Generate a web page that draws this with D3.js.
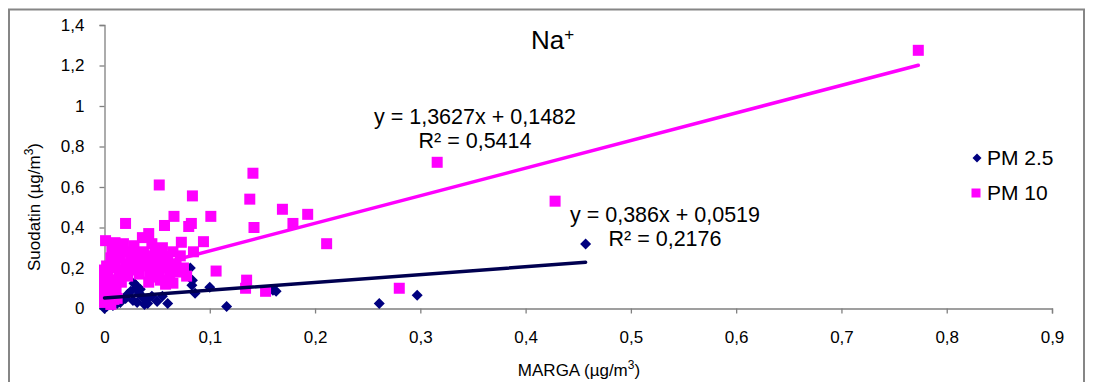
<!DOCTYPE html>
<html>
<head>
<meta charset="utf-8">
<script src="https://cdn.jsdelivr.net/npm/d3@7"></script>
<style>
  body { margin: 0; background: #fff; }
  text { font-family: "Liberation Sans", Arial, sans-serif; fill: #000; }
</style>
</head>
<body>
<script>
// PM 2.5 points [MARGA, Suodatin]
var pm25 = [
  [0.457, 0.318], [0.297, 0.065], [0.261, 0.025], [0.163, 0.085], [0.160, 0.09],
  [0.116, 0.01], [0.100, 0.105], [0.0815, 0.20], [0.0835, 0.14], [0.083, 0.115],
  [0.086, 0.075], [0.06, 0.025], [0.041, 0.025], [0.029, 0.12], [0.03, 0.10],
  [0.036, 0.055], [0.012, 0.025], [0, 0], [0.002, 0.01], [0.005, 0.04],
  [0.008, 0.015], [0.015, 0.03], [0.02, 0.05], [0.022, 0.07], [0.025, 0.085],
  [0.027, 0.04], [0.031, 0.03], [0.033, 0.075], [0.038, 0.02], [0.04, 0.045],
  [0.045, 0.06], [0.05, 0.035], [0.055, 0.06], [0.028, 0.125], [0.034, 0.095]
];

// PM 10 points [MARGA, Suodatin]
var pm10 = [
  [0.773, 1.275], [0.316, 0.722], [0.428, 0.53], [0.280, 0.10], [0.211, 0.32],
  [0.193, 0.465], [0.179, 0.42], [0.169, 0.49], [0.153, 0.085], [0.142, 0.40],
  [0.141, 0.668], [0.138, 0.54], [0.135, 0.14], [0.134, 0.10], [0.106, 0.185],
  [0.101, 0.455], [0.094, 0.33], [0.0835, 0.556], [0.0825, 0.42], [0.080, 0.405],
  [0.0845, 0.28], [0.066, 0.455], [0.057, 0.41], [0.052, 0.61], [0.057, 0.257],
  [0.048, 0.155], [0.065, 0.125], [0.042, 0.37], [0.036, 0.35], [0.073, 0.327],
  [0.020, 0.42], [0.018, 0.32], [0.010, 0.325], [0.001, 0.335], [0.032, 0.262],
  [0.006, 0.25],
  [0, 0.19], [0, 0.15], [0, 0.12], [0, 0.09], [0, 0.06], [0, 0.03],
  [0.002, 0.21], [0.003, 0.17], [0.004, 0.11], [0.005, 0.07], [0.006, 0.02],
  [0.008, 0.14], [0.009, 0.23], [0.011, 0.10], [0.012, 0.05], [0.014, 0.18],
  [0.015, 0.25], [0.016, 0.13], [0.02, 0.22], [0.022, 0.16],
  [0.025, 0.27], [0.027, 0.19], [0.03, 0.23],
  [0.033, 0.17], [0.037, 0.28], [0.04, 0.21], [0.042, 0.13],
  [0.044, 0.26], [0.046, 0.18], [0.05, 0.23], [0.053, 0.14], [0.055, 0.3],
  [0.058, 0.2], [0.062, 0.17], [0.068, 0.22], [0.045, 0.32], [0.028, 0.31],
  [0.007, 0.29], [0.013, 0.28], [0.021, 0.28], [0.01, 0.2], [0.019, 0.19],
  [0.031, 0.2], [0.038, 0.24], [0.048, 0.27], [0.06, 0.24], [0.052, 0.19],
  [0.043, 0.16], [0.008, 0.08], [0.058, 0.12], [0.065, 0.28],
  [0.072, 0.26], [0.07, 0.18], [0.075, 0.2], [0.078, 0.16], [0.009, 0.045]
];

// trend lines: slope, intercept, x range, labels
var fit25 = {a: 0.386, b: 0.0519, x0: 0, x1: 0.457, eq: "y = 0,386x + 0,0519", r2: "R² = 0,2176"};
var fit10 = {a: 1.3627, b: 0.1482, x0: 0, x1: 0.773, eq: "y = 1,3627x + 0,1482", r2: "R² = 0,5414"};

var xTicks = [0, 0.1, 0.2, 0.3, 0.4, 0.5, 0.6, 0.7, 0.8, 0.9];
var yTicks = [0, 0.2, 0.4, 0.6, 0.8, 1, 1.2, 1.4];

var width = 1094, height = 382;
var navy = "#000080", line25 = "#000050", magenta = "#ff00ff";

var svg = d3.select("body").append("svg")
    .attr("width", width)
    .attr("height", height);

// chart frame
svg.append("rect")
    .attr("x", 9).attr("y", 9.5)
    .attr("width", 1075).attr("height", 400)
    .attr("fill", "none")
    .attr("stroke", "#868686")
    .attr("stroke-width", 2);

var x = d3.scaleLinear().domain([0, 0.9]).range([104.5, 1052]);
var y = d3.scaleLinear().domain([0, 1.4]).range([308.5, 25]);

function fmt(d) { return String(+d.toFixed(2)).replace(".", ","); }

var xAxis = svg.append("g")
    .attr("transform", "translate(0," + y(0) + ")")
    .call(d3.axisBottom(x).tickValues(xTicks).tickFormat(fmt).tickSize(5).tickPadding(17));

var yAxis = svg.append("g")
    .attr("transform", "translate(" + x(0) + ",0)")
    .call(d3.axisLeft(y).tickValues(yTicks).tickFormat(fmt).tickSize(5).tickPadding(15));

[xAxis, yAxis].forEach(function(g) {
  g.selectAll("path, line").attr("stroke", "#808080").attr("stroke-width", 1.3);
  g.selectAll("text").style("font-size", "17px")
   .style("font-family", "'Liberation Sans', Arial, sans-serif");
});

// PM 2.5 diamonds
var r = 5.5;
svg.append("g").selectAll("path")
    .data(pm25)
  .enter().append("path")
    .attr("d", "M0,-" + r + "L" + r + ",0L0," + r + "L-" + r + ",0Z")
    .attr("transform", function(d) { return "translate(" + x(d[0]) + "," + y(d[1]) + ")"; })
    .attr("fill", navy);

// PM 10 squares
var s = 11;
svg.append("g").selectAll("rect")
    .data(pm10)
  .enter().append("rect")
    .attr("x", function(d) { return x(d[0]) - s / 2; })
    .attr("y", function(d) { return y(d[1]) - s / 2; })
    .attr("width", s).attr("height", s)
    .attr("fill", magenta);

// trend lines
[[fit25, line25], [fit10, magenta]].forEach(function(f) {
  var t = f[0];
  svg.append("line")
      .attr("x1", x(t.x0)).attr("y1", y(t.a * t.x0 + t.b))
      .attr("x2", x(t.x1)).attr("y2", y(t.a * t.x1 + t.b))
      .attr("stroke", f[1])
      .attr("stroke-width", 3.5)
      .attr("stroke-linecap", "round");
});

// equations
function eqLabel(t, cx, by) {
  svg.append("text").attr("x", cx).attr("y", by)
      .attr("text-anchor", "middle").style("font-size", "21.5px").text(t.eq);
  svg.append("text").attr("x", cx).attr("y", by + 24)
      .attr("text-anchor", "middle").style("font-size", "21.5px").text(t.r2);
}
eqLabel(fit10, 475, 124);
eqLabel(fit25, 665, 222);

// title
var title = svg.append("text").attr("x", 531).attr("y", 49).style("font-size", "26px");
title.append("tspan").text("Na");
title.append("tspan").attr("dy", -9).style("font-size", "17px").text("+");

// axis titles
var xt = svg.append("text").attr("x", 579).attr("y", 376)
    .attr("text-anchor", "middle").style("font-size", "17px");
xt.append("tspan").text("MARGA (µg/m");
xt.append("tspan").attr("dy", -7).style("font-size", "12px").text("3");
xt.append("tspan").attr("dy", 7).text(")");

var yt = svg.append("text")
    .attr("transform", "translate(40,207) rotate(-90)")
    .attr("text-anchor", "middle").style("font-size", "17px");
yt.append("tspan").text("Suodatin (µg/m");
yt.append("tspan").attr("dy", -7).style("font-size", "12px").text("3");
yt.append("tspan").attr("dy", 7).text(")");

// legend
var lg = svg.append("g");
lg.append("path")
    .attr("d", "M0,-4.5L4.5,0L0,4.5L-4.5,0Z")
    .attr("transform", "translate(977,158)")
    .attr("fill", navy);
lg.append("text").attr("x", 987).attr("y", 165).style("font-size", "21px").text("PM 2.5");
lg.append("rect").attr("x", 971.5).attr("y", 188.5).attr("width", 9).attr("height", 9).attr("fill", magenta);
lg.append("text").attr("x", 987).attr("y", 200).style("font-size", "21px").text("PM 10");
</script>
</body>
</html>
